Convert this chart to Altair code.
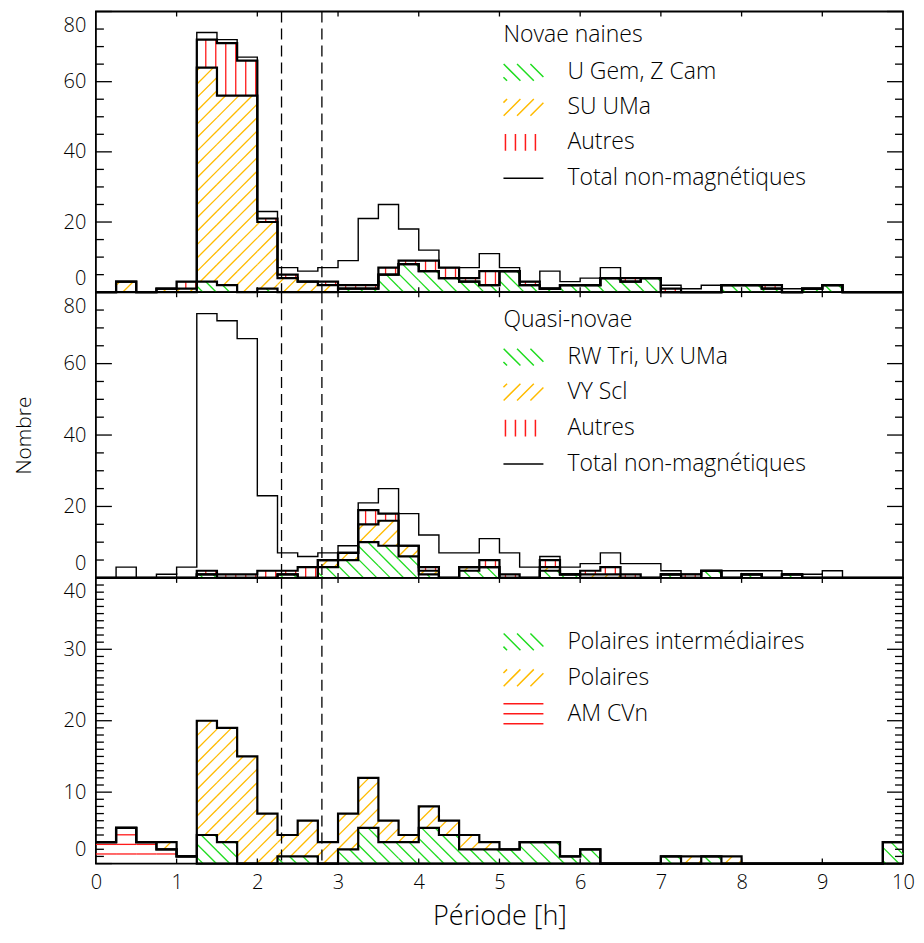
import math
import altair as alt
import pandas as pd

# ---------------- data (bins of 0.25 h from 0 to 10 h) ----------------
bin_width = 0.25
n_bins = 40
x_edges = [i * bin_width for i in range(n_bins + 1)]
dashed_periods = [2.3, 2.8]

total_nonmag = [0, 3, 0, 1, 3, 74, 72, 67, 23, 7,
                6, 7, 9, 21, 25, 18, 12, 7, 7, 11,
                7, 3, 6, 3, 4, 7, 4, 4, 2, 1,
                2, 2, 2, 2, 1, 1, 2, 0, 0, 0]

# Novae naines
dn_ugem = [0, 0, 0, 0, 0, 3, 2, 0, 1, 0,
           0, 0, 1, 1, 5, 8, 6, 4, 3, 2,
           6, 2, 1, 2, 2, 4, 3, 4, 0, 0,
           0, 2, 2, 1, 0, 1, 2, 0, 0, 0]
dn_suuma = [0, 3, 0, 1, 1, 61, 54, 56, 19, 4,
            3, 2, 0, 0, 0, 0, 0, 0, 0, 0,
            0, 0, 0, 0, 0, 0, 0, 0, 0, 0,
            0, 0, 0, 0, 0, 0, 0, 0, 0, 0]
dn_autres = [0, 0, 0, 0, 2, 8, 15, 10, 1, 1,
             0, 1, 1, 1, 2, 1, 3, 3, 1, 4,
             0, 1, 0, 0, 0, 0, 1, 0, 1, 0,
             0, 0, 0, 1, 0, 0, 0, 0, 0, 0]

# Quasi-novae
nl_rwtri = [0, 0, 0, 0, 0, 1, 0, 0, 0, 1,
            0, 3, 5, 10, 9, 6, 1, 0, 2, 3,
            0, 0, 2, 1, 0, 0, 0, 0, 1, 0,
            2, 0, 1, 0, 1, 0, 0, 0, 0, 0]
nl_vyscl = [0, 0, 0, 0, 0, 0, 0, 0, 0, 0,
            0, 2, 2, 5, 7, 3, 1, 0, 1, 0,
            0, 0, 1, 0, 1, 1, 0, 0, 0, 0,
            0, 0, 0, 0, 0, 0, 0, 0, 0, 0]
nl_autres = [0, 0, 0, 0, 0, 1, 1, 1, 2, 1,
             3, 0, 0, 4, 2, 0, 1, 0, 0, 2,
             1, 0, 2, 0, 1, 2, 1, 0, 0, 1,
             0, 0, 0, 0, 0, 0, 0, 0, 0, 0]

# Magnetiques
mag_amcvn = [3, 5, 3, 2, 1, 0, 0, 0, 0, 0,
             0, 0, 0, 0, 0, 0, 0, 0, 0, 0,
             0, 0, 0, 0, 0, 0, 0, 0, 0, 0,
             0, 0, 0, 0, 0, 0, 0, 0, 0, 0]
mag_ip = [0, 0, 0, 0, 0, 4, 3, 0, 0, 1,
          1, 0, 2, 5, 3, 3, 5, 4, 2, 2,
          2, 3, 3, 1, 2, 0, 0, 0, 1, 0,
          1, 0, 0, 0, 0, 0, 0, 0, 0, 3]
mag_polars = [0, 0, 0, 1, 0, 16, 16, 15, 7, 3,
              5, 3, 5, 7, 3, 1, 3, 2, 2, 1,
              0, 0, 0, 0, 0, 0, 0, 0, 0, 1,
              0, 1, 0, 0, 0, 0, 0, 0, 0, 0]

# ---------------- style ----------------
W = 808
FONT = "Open Sans"
FW = 300
GREEN = "#1fdc1f"
YELLOW = "#ffbb00"
RED = "#ff1a1a"
HATCH_SP = {"diag_up": 13.4, "diag_down": 13.4, "vert": 10.0, "horiz": 9.6}
HATCH_W = 1.3
LEG_FS = 23
LEG_SW_X = 428
LEG_LBL_X = 472


def hatch_segments(lower, upper, kind, ymax, height):
    kx = W / 10.0
    ky = height / ymax
    s = HATCH_SP[kind]
    rows = []
    for i in range(n_bins):
        if upper[i] <= lower[i]:
            continue
        X0, X1 = x_edges[i] * kx, x_edges[i + 1] * kx
        Y0, Y1 = lower[i] * ky, upper[i] * ky
        segs = []
        if kind == "vert":
            for k in range(math.ceil(X0 / s), math.floor(X1 / s) + 1):
                X = k * s
                if X0 < X < X1:
                    segs.append((X, Y0, X, Y1))
        elif kind == "horiz":
            for k in range(math.ceil(Y0 / s), math.floor(Y1 / s) + 1):
                Y = k * s
                if Y0 < Y < Y1:
                    segs.append((X0, Y, X1, Y))
        elif kind == "diag_up":  # '/'
            for k in range(math.floor((Y0 - X1) / s), math.ceil((Y1 - X0) / s) + 1):
                c = k * s
                a = max(X0, Y0 - c)
                b = min(X1, Y1 - c)
                if b - a > 0.4:
                    segs.append((a, a + c, b, b + c))
        else:  # '\'
            for k in range(math.floor((X0 + Y0) / s), math.ceil((X1 + Y1) / s) + 1):
                c = k * s
                a = max(X0, c - Y1)
                b = min(X1, c - Y0)
                if b - a > 0.4:
                    segs.append((a, c - a, b, c - b))
        for (xa, ya, xb, yb) in segs:
            rows.append({"x": xa / kx, "y": ya / ky, "x2": xb / kx, "y2": yb / ky})
    return pd.DataFrame(rows, columns=["x", "y", "x2", "y2"])


def swatch_path(kind):
    bx0, bx1, by0, by1 = -1.0, 1.0, -0.42, 0.42
    parts = []
    if kind == "vert":
        for x in (-0.9, -0.4, 0.1, 0.6):
            parts.append(f"M{x:.3f},{by0}L{x:.3f},{by1}")
    elif kind == "horiz":
        for y in (-0.5, 0.0, 0.5):
            parts.append(f"M{bx0},{y}L{bx1},{y}")
    elif kind == "line":
        parts.append("M-1,0L1,0")
    else:
        s = 0.67
        for k in range(-5, 6):
            c = k * s + 0.1
            if kind == "diag_down":
                a = max(bx0, by0 + c)
                b = min(bx1, by1 + c)
                if b - a > 0.05:
                    parts.append(f"M{a:.3f},{a - c:.3f}L{b:.3f},{b - c:.3f}")
            else:
                a = max(bx0, c - by1)
                b = min(bx1, c - by0)
                if b - a > 0.05:
                    parts.append(f"M{a:.3f},{c - a:.3f}L{b:.3f},{c - b:.3f}")
    return "".join(parts)


def step_df(levels):
    rows = []
    for li, lv in enumerate(levels):
        for i in range(n_bins):
            rows.append({"x": x_edges[i], "v": lv[i], "lvl": li})
        rows.append({"x": x_edges[-1], "v": lv[-1], "lvl": li})
    return pd.DataFrame(rows)


def make_panel(stack, ymax, height, major, minor, total=None, legend_title=None,
               title_y=0, legend=(), ytitle=None, bottom=False):
    xscale = alt.Scale(domain=[0, 10], nice=False, zero=False)
    yscale = alt.Scale(domain=[0, ymax], nice=False, zero=True)
    if bottom:
        xaxis = alt.Axis(values=list(range(11)), format="d", ticks=False, domain=False,
                         grid=False, labelFlush=False, labelPadding=9,
                         title="Période [h]", titlePadding=11, titleFontSize=27)
    else:
        xaxis = None
    ykw = dict(values=major, format="d", ticks=False, domain=False, grid=False,
               labelFlush=True, labelFlushOffset=-4, labelPadding=10)
    if ytitle:
        ykw.update(title=ytitle, titlePadding=29, titleFontSize=21)
    else:
        ykw.update(title=None)
    yaxis = alt.Axis(**ykw)

    def X(f):
        return alt.X(f, type="quantitative", scale=xscale, axis=xaxis)

    def Y(f):
        return alt.Y(f, type="quantitative", scale=yscale, axis=yaxis)

    layers = []
    lower = [0] * n_bins
    cums = []
    for counts, kind, color in stack:
        upper = [a + b for a, b in zip(lower, counts)]
        df = hatch_segments(lower, upper, kind, ymax, height)
        layers.append(alt.Chart(df).mark_rule(color=color, strokeWidth=HATCH_W).encode(
            x=X("x"), x2="x2", y=Y("y"), y2="y2"))
        cums.append(upper)
        lower = upper

    layers.append(alt.Chart(step_df(cums)).mark_line(
        interpolate="step-after", color="black", strokeWidth=2.2).encode(
        x=X("x"), y=Y("v"), detail="lvl:N"))
    if total is not None:
        layers.append(alt.Chart(step_df([total])).mark_line(
            interpolate="step-after", color="black", strokeWidth=1.4).encode(
            x=X("x"), y=Y("v"), detail="lvl:N"))

    layers.append(alt.Chart(pd.DataFrame({"p": dashed_periods})).mark_rule(
        color="black", strokeWidth=1.3, strokeDash=[11, 6]).encode(x=X("p")))

    for vals, L in [(major, 16), (minor, 8)]:
        d = pd.DataFrame({"v": vals})
        layers.append(alt.Chart(d).mark_rule(color="black", strokeWidth=1.3).encode(
            y=Y("v"), x=alt.value(0), x2=alt.value(L)))
        layers.append(alt.Chart(d).mark_rule(color="black", strokeWidth=1.3).encode(
            y=Y("v"), x=alt.value(W - L), x2=alt.value(W)))
    xt = pd.DataFrame({"v": list(range(1, 10))})
    layers.append(alt.Chart(xt).mark_rule(color="black", strokeWidth=1.3).encode(
        x=X("v"), y=alt.value(0), y2=alt.value(5)))
    layers.append(alt.Chart(xt).mark_rule(color="black", strokeWidth=1.3).encode(
        x=X("v"), y=alt.value(height - 5), y2=alt.value(height)))

    one = pd.DataFrame({"k": [0]})
    if legend_title:
        layers.append(alt.Chart(one).mark_text(
            text=legend_title, align="left", baseline="middle", font=FONT,
            fontSize=LEG_FS, fontWeight=FW, color="black").encode(
            x=alt.value(LEG_SW_X - 20), y=alt.value(title_y)))
    for label, kind, color, yy in legend:
        layers.append(alt.Chart(one).mark_point(
            shape=swatch_path(kind), size=1600, filled=False, color=color,
            strokeWidth=1.5, opacity=1).encode(
            x=alt.value(LEG_SW_X), y=alt.value(yy)))
        layers.append(alt.Chart(one).mark_text(
            text=label, align="left", baseline="middle", font=FONT,
            fontSize=LEG_FS, fontWeight=FW, color="black").encode(
            x=alt.value(LEG_LBL_X), y=alt.value(yy)))

    return alt.layer(*layers).properties(width=W, height=height)


maj80 = [0, 20, 40, 60, 80]
min80 = [v for v in range(5, 80, 5) if v % 20]
maj40 = [0, 10, 20, 30, 40]
min40 = [v for v in range(1, 40) if v % 10]

H_TOP, H_MID, H_BOT = 281, 286, 286

top = make_panel(
    [(dn_ugem, "diag_down", GREEN), (dn_suuma, "diag_up", YELLOW), (dn_autres, "vert", RED)],
    80, H_TOP, maj80, min80, total=total_nonmag, legend_title="Novae naines", title_y=24,
    legend=[("U Gem, Z Cam", "diag_down", GREEN, 61), ("SU UMa", "diag_up", YELLOW, 96),
            ("Autres", "vert", RED, 131), ("Total non-magnétiques", "line", "black", 167)])

mid = make_panel(
    [(nl_rwtri, "diag_down", GREEN), (nl_vyscl, "diag_up", YELLOW), (nl_autres, "vert", RED)],
    80, H_MID, maj80, min80, total=total_nonmag, legend_title="Quasi-novae", title_y=28,
    legend=[("RW Tri, UX UMa", "diag_down", GREEN, 65), ("VY Scl", "diag_up", YELLOW, 100),
            ("Autres", "vert", RED, 136), ("Total non-magnétiques", "line", "black", 172)],
    ytitle="Nombre")

bot = make_panel(
    [(mag_amcvn, "horiz", RED), (mag_ip, "diag_down", GREEN), (mag_polars, "diag_up", YELLOW)],
    40, H_BOT, maj40, min40,
    legend=[("Polaires intermédiaires", "diag_down", GREEN, 64), ("Polaires", "diag_up", YELLOW, 100),
            ("AM CVn", "horiz", RED, 136)],
    bottom=True)

chart = alt.vconcat(top, mid, bot, spacing=0, bounds="flush",
                    padding={"left": 4, "top": 1, "right": 0, "bottom": 2}).configure(
    font=FONT).configure_view(stroke="black", strokeWidth=1.8).configure_axis(
    labelFont=FONT, labelFontSize=20, labelFontWeight=FW, labelColor="black",
    titleFont=FONT, titleFontWeight=FW, titleColor="black")

chart.save("out.html", embed_options={"renderer": "svg", "actions": False})
